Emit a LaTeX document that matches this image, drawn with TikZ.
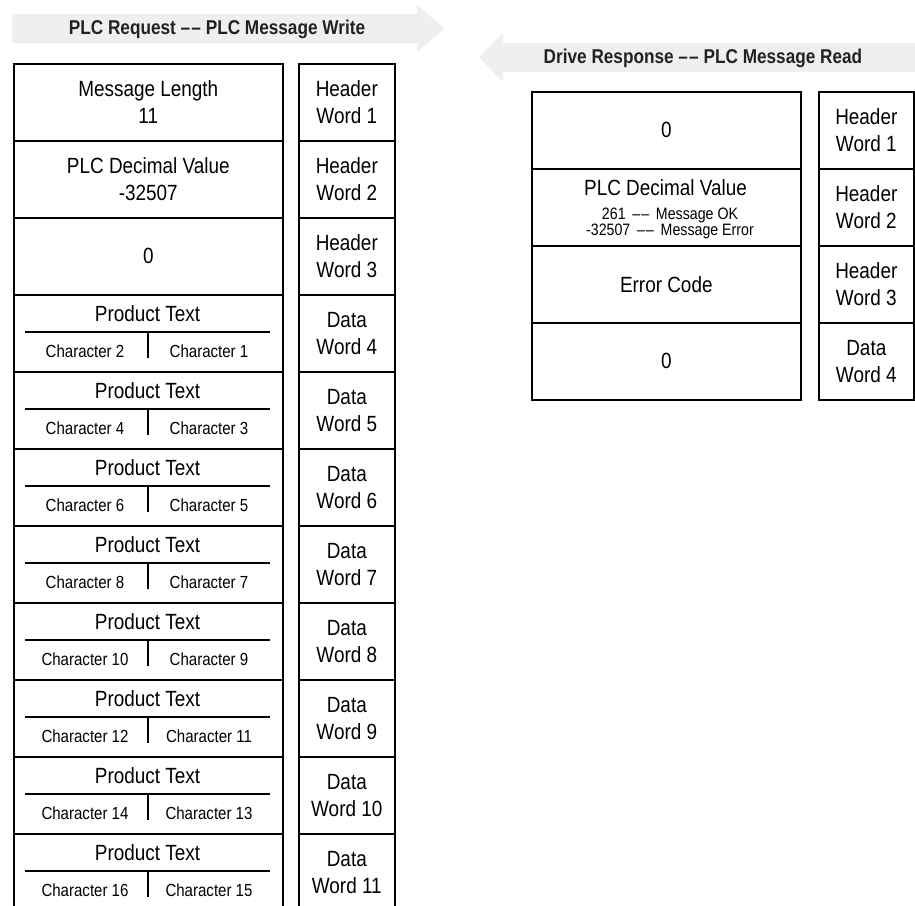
\documentclass[tikz,border=0pt]{standalone}
\usepackage{fontspec}
\setmainfont{Liberation Sans}[FakeStretch=0.86]
\definecolor{bandgray}{RGB}{238,239,241}
\definecolor{titlegray}{RGB}{34,34,34}
\newcommand{\ddash}{–\kern1.2pt–}
\begin{document}
\begin{tikzpicture}[x=1pt,y=-1pt,
  cell/.style={draw, line width=1.6pt, anchor=north west, inner sep=0pt,
    align=center, minimum height=77pt, font=\fontsize{22}{27}\selectfont},
  maincell/.style={cell, minimum width=269pt},
  wordcell/.style={cell, minimum width=96pt},
  bigtext/.style={inner sep=0pt, font=\fontsize{22}{27}\selectfont},
  smalltext/.style={inner sep=0pt, font=\fontsize{17.5}{14}\selectfont},
  tinytext/.style={inner sep=0pt, font=\fontsize{16.5}{14}\selectfont},
  titletext/.style={inner sep=0pt, text=titlegray, font=\bfseries\fontsize{20}{24}\selectfont},
  divider/.style={line width=1.6pt}
]
\useasboundingbox (0,0) rectangle (915,905);

% banners
\fill[bandgray] (12,14) -- (417,14) -- (417,5) -- (445,28.5) -- (417,52) -- (417,43) -- (12,43) -- cycle;
\node[titletext] (ltitle) at (217,29) {PLC Request \ddash{} PLC Message Write};
\fill[bandgray] (915,43) -- (503,43) -- (503,33) -- (479,57.5) -- (503,82) -- (503,72) -- (915,72) -- cycle;
\node[titletext] (rtitle) at (703,58) {Drive Response \ddash{} PLC Message Read};

% left table, header rows
\node[maincell] (l1) at (13,63) {Message Length\\11};
\node[maincell] (l2) at (13,140) {PLC Decimal Value\\-32507};
\node[maincell] (l3) at (13,217) {0};
\node[wordcell] (w1) at (298,63) {Header\\Word 1};
\node[wordcell] (w2) at (298,140) {Header\\Word 2};
\node[wordcell] (w3) at (298,217) {Header\\Word 3};

% left table, product text rows
\foreach \k/\a/\b in {0/2/1,1/4/3,2/6/5,3/8/7,4/10/9,5/12/11,6/14/13,7/16/15}{
  \pgfmathsetmacro{\top}{294+77*\k}
  \pgfmathtruncatemacro{\w}{4+\k}
  \node[maincell] (p\k) at (13,\top) {};
  \node[wordcell] (dw\k) at (298,\top) {Data\\Word \w};
  \node[bigtext] (pt\k) at (147.5,\top+20) {Product Text};
  \coordinate (sl\k) at (25,\top+38);
  \coordinate (sr\k) at (270,\top+38);
  \coordinate (st\k) at (148,\top+38);
  \coordinate (sb\k) at (148,\top+64);
  \draw[divider] (sl\k) -- (sr\k);
  \draw[divider] (st\k) -- (sb\k);
  \node[smalltext] (ca\k) at (85,\top+57) {Character \a};
  \node[smalltext] (cb\k) at (209,\top+57) {Character \b};
}

% right table
\node[maincell] (r1) at (531,91) {0};
\node[maincell] (r2) at (531,168) {};
\node[bigtext] (r2t) at (665.5,188) {PLC Decimal Value};
\node[tinytext] (r2a) at (670,215) {261 \,\ddash{} \,Message OK};
\node[tinytext] (r2b) at (670,231) {-32507 \,\ddash{} \,Message Error};
\node[maincell] (r3) at (531,245) {Error Code};
\node[maincell] (r4) at (531,322) {0};
\node[wordcell, minimum width=95pt] (v1) at (818,91) {Header\\Word 1};
\node[wordcell, minimum width=95pt] (v2) at (818,168) {Header\\Word 2};
\node[wordcell, minimum width=95pt] (v3) at (818,245) {Header\\Word 3};
\node[wordcell, minimum width=95pt] (v4) at (818,322) {Data\\Word 4};
\end{tikzpicture}
\end{document}
